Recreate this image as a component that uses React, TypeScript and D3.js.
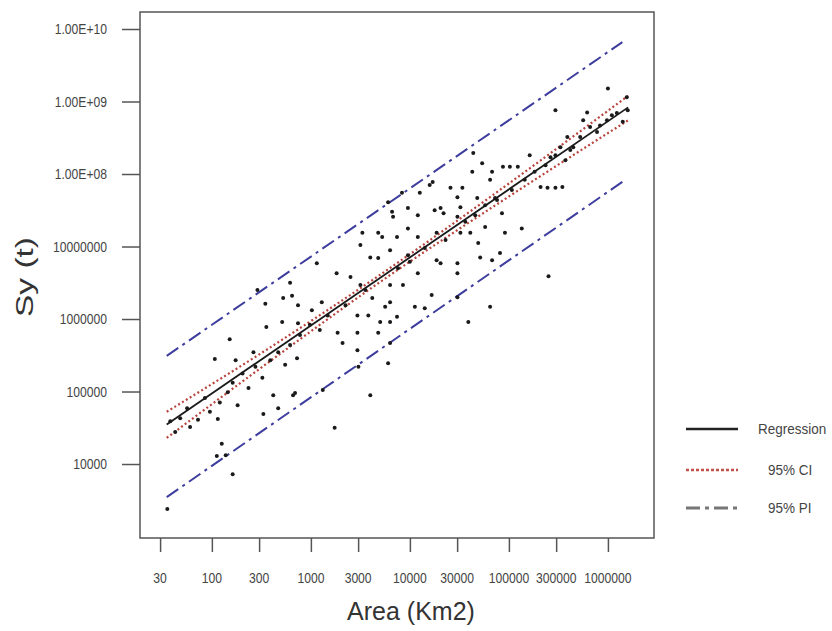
import React, { useEffect, useRef } from "react";
import * as d3 from "d3";

const W = 832;
const H = 631;

const xTicks = [30, 100, 300, 1000, 3000, 10000, 30000, 100000, 300000, 1000000];
const xTickLabels = ["30", "100", "300", "1000", "3000", "10000", "30000", "100000", "300000", "1000000"];
const yTicks = [1e4, 1e5, 1e6, 1e7, 1e8, 1e9, 1e10];
const yTickLabels = ["10000", "100000", "1000000", "10000000", "1.00E+08", "1.00E+09", "1.00E+10"];

const observations: [number, number][] = [
  [1.55, 3.38], [2.21, 3.86], [2.10, 4.28], [2.05, 4.11], [2.14, 4.12], [2.06, 4.62],
  [2.26, 4.81], [2.52, 4.69], [2.67, 4.77], [2.82, 4.95], [2.62, 4.95], [2.03, 5.45],
  [2.18, 5.72], [2.24, 5.43], [2.42, 5.54], [2.55, 5.89], [2.71, 5.96], [2.54, 6.21],
  [2.72, 6.29], [2.81, 6.32], [2.87, 6.19], [2.86, 5.46], [2.89, 5.78], [2.46, 6.40],
  [1.58, 4.59], [1.63, 4.44], [1.68, 4.63], [1.75, 4.77], [1.78, 4.51], [1.86, 4.61],
  [1.93, 4.91], [1.98, 4.72], [2.08, 4.85], [2.16, 4.99], [2.21, 5.12], [2.31, 5.25],
  [2.37, 5.05], [2.44, 5.34], [2.51, 5.19], [2.59, 5.43], [2.67, 5.54], [2.74, 5.37],
  [2.79, 5.64],
  [2.84, 4.98], [3.12, 5.02], [3.60, 4.95], [3.78, 5.39], [3.80, 5.67], [3.48, 5.34],
  [3.47, 5.57], [3.32, 5.67], [3.27, 5.81], [3.47, 5.81], [3.68, 5.81], [3.70, 5.96],
  [3.80, 5.96], [3.87, 6.03], [4.05, 6.17], [4.15, 6.15], [4.22, 6.33], [3.58, 6.05],
  [3.47, 6.05], [3.75, 6.17], [3.80, 6.23], [3.62, 6.29], [3.50, 6.47], [3.40, 6.58],
  [3.26, 6.63], [3.80, 6.47], [3.93, 6.47], [4.08, 6.63], [3.60, 6.85], [3.68, 6.84],
  [3.80, 6.95], [3.98, 6.88], [3.52, 7.19], [3.50, 7.02], [3.68, 7.19], [3.87, 7.13],
  [3.98, 7.25], [4.08, 7.13], [4.08, 7.43], [3.82, 7.48], [3.78, 7.61], [3.92, 7.74],
  [4.10, 7.74], [4.20, 7.85], [4.25, 7.50], [4.27, 6.81], [3.01, 6.12], [3.11, 6.23],
  [3.09, 5.85], [2.87, 5.94], [3.24, 4.50], [3.06, 6.77], [2.79, 6.50],
  [2.99, 5.92], [3.17, 6.05], [3.35, 6.19], [3.55, 6.40], [3.88, 6.70], [4.00, 6.79],
  [4.15, 6.98], [4.36, 7.09],
  [4.59, 5.96], [4.81, 6.17], [5.40, 6.59], [5.13, 7.25], [4.91, 6.91], [4.83, 6.81],
  [4.71, 6.85], [4.69, 7.05], [4.48, 6.63], [4.48, 6.77], [4.31, 6.77], [4.96, 7.19],
  [4.93, 7.46], [4.76, 7.27], [4.61, 7.19], [4.51, 7.19], [4.48, 7.41], [4.51, 7.54],
  [4.34, 7.46], [4.41, 7.81], [4.53, 7.81], [4.48, 7.68], [4.63, 8.03], [4.73, 8.15],
  [4.83, 8.03], [4.81, 7.92], [4.94, 8.10], [5.01, 8.10], [5.09, 8.10], [5.21, 8.26],
  [5.32, 7.82], [5.39, 7.81], [5.47, 7.81], [5.54, 7.82], [4.64, 8.29], [4.68, 7.67],
  [4.48, 6.30], [4.31, 7.53], [3.98, 7.53], [3.83, 7.41], [3.72, 7.13], [4.27, 7.19],
  [4.23, 7.89], [4.88, 7.64], [5.03, 7.78], [5.16, 7.92], [5.26, 8.03], [5.37, 8.12],
  [4.56, 7.34], [4.66, 7.43], [4.76, 7.57], [4.86, 7.67],
  [5.47, 8.88], [5.79, 8.85], [6.00, 9.18], [6.19, 9.06], [6.20, 8.88], [6.15, 8.72],
  [5.99, 8.74], [5.82, 8.65], [5.75, 8.74], [5.59, 8.51], [5.52, 8.37], [5.57, 8.19],
  [5.42, 8.23], [5.65, 8.37], [5.89, 8.58], [5.72, 8.51], [6.09, 8.84], [5.92, 8.67],
  [6.04, 8.81], [5.62, 8.33], [5.47, 8.26],
];

// fitted lines as [area, Sy]
const regression: [number, number][] = [[35, 3.5e4], [1.6e6, 8.3e8]];
const ciUpper: [number, number][] = [[35, 5.25e4], [316, 3.39e5], [5000, 4.07e6], [1e5, 7.4e7], [1.6e6, 1.2e9]];
const ciLower: [number, number][] = [[35, 2.29e4], [316, 2.14e5], [5000, 3.24e6], [1e5, 4.9e7], [1.6e6, 5.5e8]];
const piUpper: [number, number][] = [[35, 3.1e5], [1.4e6, 6.6e9]];
const piLower: [number, number][] = [[35, 3500], [1.4e6, 7.8e7]];

const legendItems = ["Regression", "95% CI", "95% PI"];

const labelFont = "'Liberation Sans', Arial, sans-serif";

const App = () => {
  const svgRef = useRef<SVGSVGElement>(null);

  useEffect(() => {
    const svg = d3.select(svgRef.current);
    svg.selectAll("*").remove();

    const left = 140, right = 654, top = 12, bottom = 538;

    const x = d3.scaleLog().domain([18.8, 2.92e6]).range([left, right]);
    const y = d3.scaleLog().domain([954, 1.716e10]).range([bottom, top]);

    svg.append("rect").attr("width", W).attr("height", H).attr("fill", "#fff");

    // frame
    svg
      .append("rect")
      .attr("x", left)
      .attr("y", top)
      .attr("width", right - left)
      .attr("height", bottom - top)
      .attr("fill", "none")
      .attr("stroke", "#555")
      .attr("stroke-width", 1.5);

    // y axis ticks
    const yAxis = d3.axisLeft(y).tickValues(yTicks).tickSize(18).tickFormat(() => "");
    const yg = svg.append("g").attr("transform", `translate(${left},0)`).call(yAxis);
    yg.select(".domain").remove();
    yg.selectAll("line").attr("stroke", "#555").attr("stroke-width", 1.5);

    svg
      .append("g")
      .selectAll("text")
      .data(yTicks)
      .enter()
      .append("text")
      .attr("transform", (d) => `translate(107,${y(d) + 5}) scale(0.81,1)`)
      .attr("text-anchor", "end")
      .attr("font-family", labelFont)
      .attr("font-size", 15)
      .attr("fill", "#444")
      .text((d, i) => yTickLabels[i]);

    // x axis ticks
    const xAxis = d3.axisBottom(x).tickValues(xTicks).tickSize(14).tickFormat(() => "");
    const xg = svg.append("g").attr("transform", `translate(0,${bottom})`).call(xAxis);
    xg.select(".domain").remove();
    xg.selectAll("line").attr("stroke", "#555").attr("stroke-width", 1.5);

    svg
      .append("g")
      .selectAll("text")
      .data(xTicks)
      .enter()
      .append("text")
      .attr("transform", (d) => `translate(${x(d)},583) scale(0.81,1)`)
      .attr("text-anchor", "middle")
      .attr("font-family", labelFont)
      .attr("font-size", 15)
      .attr("fill", "#444")
      .text((d, i) => xTickLabels[i]);

    // axis titles
    svg
      .append("text")
      .attr("x", 411)
      .attr("y", 620)
      .attr("text-anchor", "middle")
      .attr("font-family", labelFont)
      .attr("font-size", 25)
      .attr("fill", "#333")
      .text("Area (Km2)");

    svg
      .append("text")
      .attr("transform", "translate(33,277) rotate(-90)")
      .attr("text-anchor", "middle")
      .attr("font-family", labelFont)
      .attr("font-size", 23)
      .attr("fill", "#333")
      .attr("textLength", 80)
      .attr("lengthAdjust", "spacingAndGlyphs")
      .text("Sy (t)");

    const line = d3
      .line<[number, number]>()
      .x((d) => x(d[0]))
      .y((d) => y(d[1]))
      .curve(d3.curveMonotoneX);

    const plot = svg.append("g");

    [piUpper, piLower].forEach((pts) => {
      plot
        .append("path")
        .attr("d", line(pts))
        .attr("fill", "none")
        .attr("stroke", "#3d3d9e")
        .attr("stroke-width", 2)
        .attr("stroke-dasharray", "14,5,3,5");
    });

    [ciUpper, ciLower].forEach((pts) => {
      plot
        .append("path")
        .attr("d", line(pts))
        .attr("fill", "none")
        .attr("stroke", "#b8433c")
        .attr("stroke-width", 2.2)
        .attr("stroke-dasharray", "2,2.5");
    });

    plot
      .append("path")
      .attr("d", line(regression))
      .attr("fill", "none")
      .attr("stroke", "#1a1a1a")
      .attr("stroke-width", 1.8);

    plot
      .selectAll("circle")
      .data(observations)
      .enter()
      .append("circle")
      .attr("cx", (d) => x(Math.pow(10, d[0])))
      .attr("cy", (d) => y(Math.pow(10, d[1])))
      .attr("r", 2)
      .attr("fill", "#1a1a1a");

    // legend
    const legendY = [429, 470, 508];
    const legendStyles = [
      { stroke: "#222", width: 2.5, dash: null },
      { stroke: "#c0504a", width: 2.5, dash: "3,2" },
      { stroke: "#777", width: 3, dash: "14,5,4,5" },
    ];
    const lg = svg.append("g");
    legendItems.forEach((name, i) => {
      const st = legendStyles[i];
      lg.append("line")
        .attr("x1", 686)
        .attr("x2", 738)
        .attr("y1", legendY[i])
        .attr("y2", legendY[i])
        .attr("stroke", st.stroke)
        .attr("stroke-width", st.width)
        .attr("stroke-dasharray", st.dash);
      lg.append("text")
        .attr("transform", `translate(${i === 0 ? 758 : 768},${legendY[i] + 5}) scale(0.9,1)`)
        .attr("font-family", labelFont)
        .attr("font-size", 15)
        .attr("fill", "#444")
        .text(name);
    });
  }, []);

  return (
    <svg
      ref={svgRef}
      width={W}
      height={H}
      style={{ position: "absolute", left: 0, top: 0, display: "block" }}
    />
  );
};

export default App;
